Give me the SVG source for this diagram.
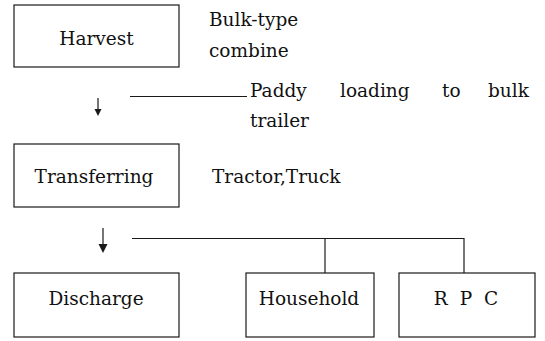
<svg xmlns="http://www.w3.org/2000/svg" width="545" height="341" viewBox="0 0 545 341">
<style>
.box{fill:#fff;stroke:#1a1a1a;stroke-width:1.2}
.t{font-family:"DejaVu Serif","Liberation Serif",serif;font-size:18.5px;fill:#111}
.c{text-anchor:middle}
.ln{stroke:#1a1a1a;stroke-width:1.2;fill:none}
.ah{fill:#1a1a1a;stroke:none}
</style>
<rect width="545" height="341" fill="#fff"/>
<g id="harvest"><rect class="box" x="14" y="5" width="165" height="62"/><text class="t c" x="96.5" y="45">Harvest</text></g>
<g id="transferring"><rect class="box" x="14" y="144" width="165" height="63"/><text class="t c" x="94" y="183">Transferring</text></g>
<g id="discharge"><rect class="box" x="14" y="273" width="165" height="64"/><text class="t c" x="96" y="305">Discharge</text></g>
<g id="household"><rect class="box" x="246" y="273" width="128" height="64"/><text class="t c" x="309" y="305">Household</text></g>
<g id="rpc"><rect class="box" x="399" y="273" width="136" height="64"/><text class="t c" x="466" y="305" word-spacing="6">R P C</text></g>
<g id="labels">
<text class="t" x="209" y="26">Bulk-type</text>
<text class="t" x="209" y="57">combine</text>
<text class="t" x="250" y="97">Paddy</text>
<text class="t" x="340" y="97">loading</text>
<text class="t" x="442" y="97">to</text>
<text class="t" x="488" y="97">bulk</text>
<text class="t" x="250" y="127">trailer</text>
<text class="t" x="212" y="183">Tractor,Truck</text>
</g>
<g id="connectors">
<line class="ln" x1="98" y1="98" x2="98" y2="111"/>
<path class="ah" d="M94.5,109 L101.5,109 L98,116 Z"/>
<line class="ln" x1="103" y1="228" x2="103" y2="247"/>
<path class="ah" d="M98.5,244 L107.5,244 L103,253 Z"/>
<line class="ln" x1="130" y1="96.5" x2="247" y2="96.5"/>
<polyline class="ln" points="132,238.5 464,238.5 464,273"/>
<line class="ln" x1="325" y1="238.5" x2="325" y2="273"/>
</g>
</svg>
